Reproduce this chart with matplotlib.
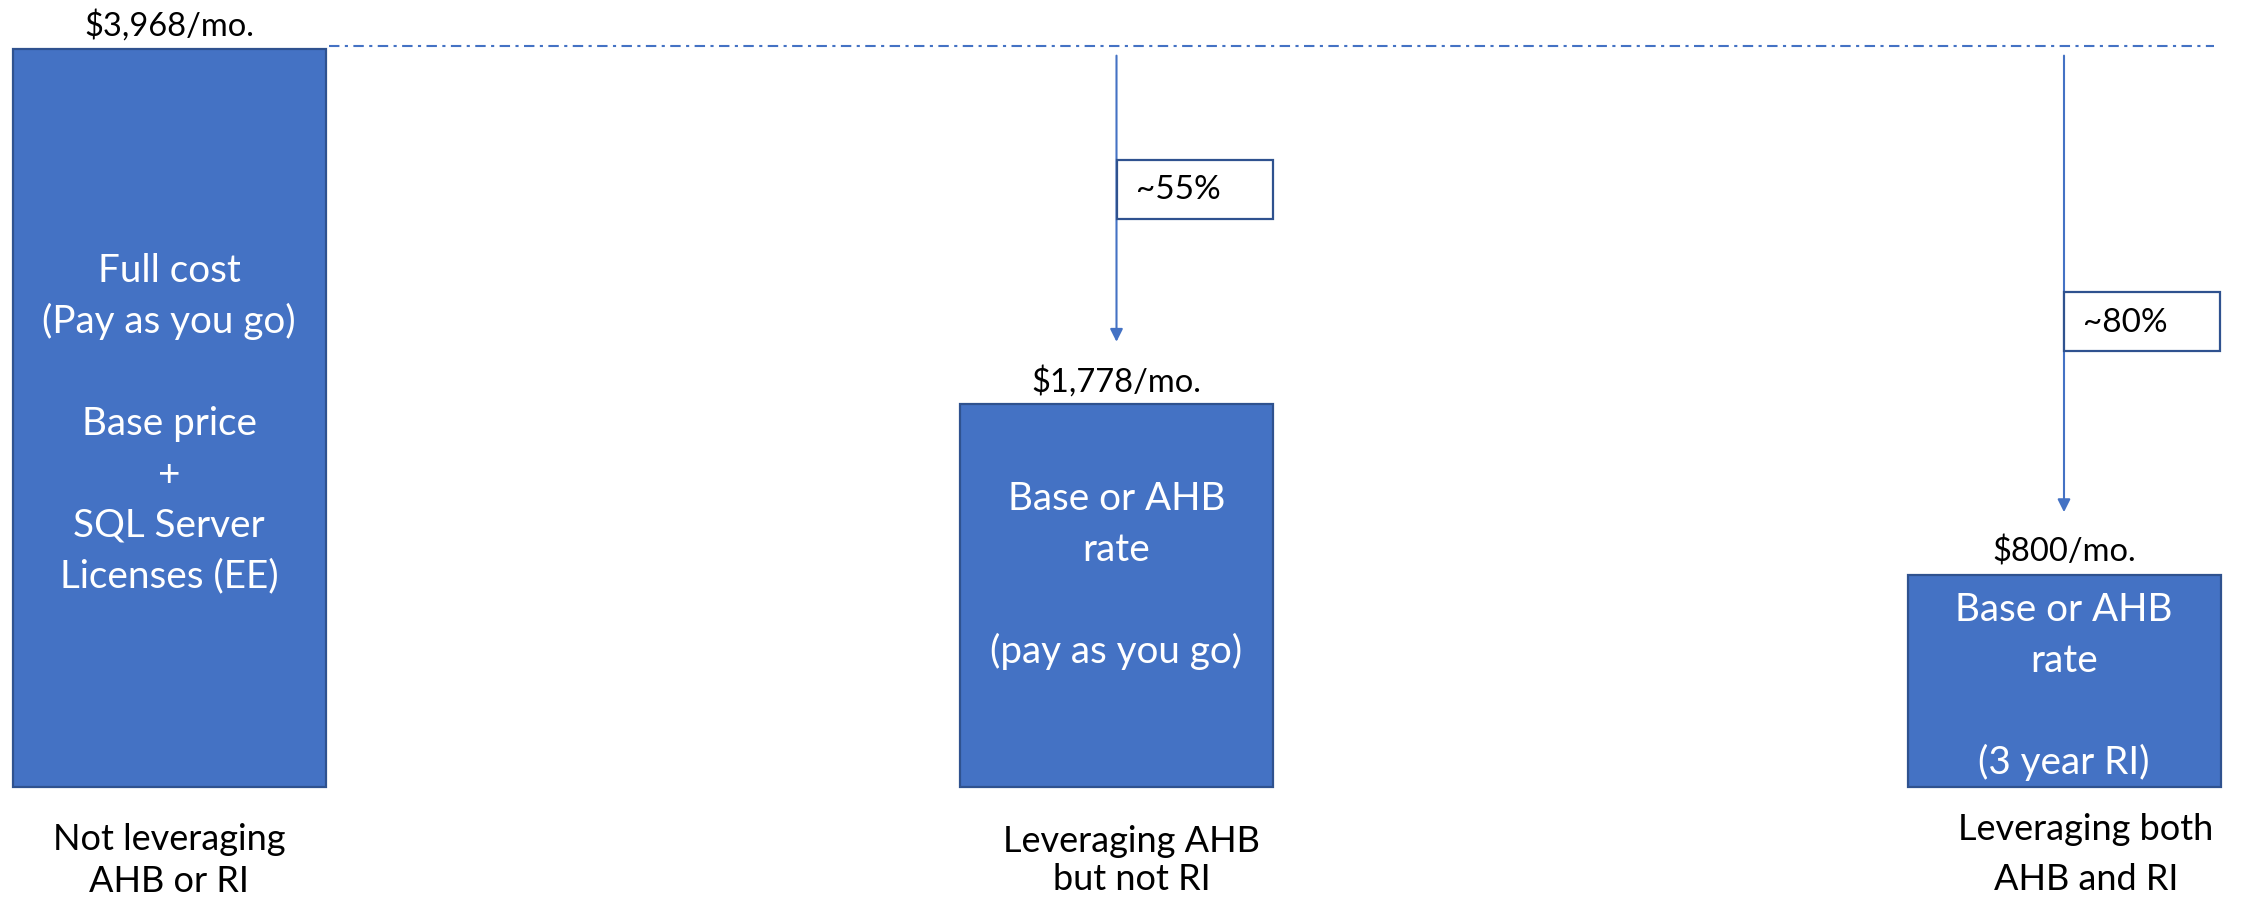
import matplotlib
matplotlib.use("Agg")
import matplotlib.pyplot as plt
from matplotlib.patches import Rectangle

# ---------------- data ----------------
categories = ["Not leveraging\nAHB or RI",
              "Leveraging AHB\nbut not RI",
              "Leveraging both\nAHB and RI"]
monthly_cost = [3968, 1778, 800]                       # $/month
cost_labels = ["$3,968/mo.", "$1,778/mo.", "$800/mo."]
bar_heights = [100.0, 51.8, 28.7]                      # drawn heights (relative)
bar_texts = ["Full cost\n(Pay as you go)\n\nBase price\n+\nSQL Server\nLicenses (EE)",
             "Base or AHB\nrate\n\n(pay as you go)",
             "Base or AHB\nrate\n\n(3 year RI)"]
savings_labels = ["~55%", "~80%"]

# ---------------- style / layout ----------------
plt.rcParams['font.family'] = ['Lato', 'DejaVu Sans']
FILL = '#4472C4'
EDGE = '#2F528F'
W_PX, H_PX = 2246, 903
DPI = 100

fig = plt.figure(figsize=(W_PX / DPI, H_PX / DPI), dpi=DPI)
ax = fig.add_axes([0, 0, 1, 1])
ax.axis('off')

px_per_x = 947.5
px_per_y = 7.375
x0_px = 169.0           # pixel column of first category
base_px = 787.5         # pixel row (from top) of bar bottoms
ax.set_xlim(-x0_px / px_per_x, (W_PX - x0_px) / px_per_x)
ax.set_ylim(-(H_PX - base_px) / px_per_y, base_px / px_per_y)

PT = 72.0 / DPI         # points per pixel
xs = list(range(len(categories)))
bw = 313 / px_per_x

ax.bar(xs, bar_heights, width=bw, color=FILL, edgecolor=EDGE, linewidth=1.6, zorder=2)

# value labels above bars
for x, h, lab in zip(xs, bar_heights, cost_labels):
    ax.annotate(lab, xy=(x, h), xytext=(0, 14 * PT), textcoords='offset points',
                ha='center', va='baseline', fontsize=23.5, color='black')

# text inside bars (one line at a time, 51 px line pitch)
inner_shift_px = [16, -10, 16]
line_px = 51
for x, h, txt, sh in zip(xs, bar_heights, bar_texts, inner_shift_px):
    lines = txt.split('\n')
    n = len(lines)
    for i, ln in enumerate(lines):
        if not ln:
            continue
        off = -(i - (n - 1) / 2) * line_px - sh
        ax.annotate(ln, xy=(x, h / 2), xytext=(0, off * PT), textcoords='offset points',
                    ha='center', va='baseline', fontsize=27.8, color='white', zorder=3)

# category labels under bars (baselines below bar bottom, px)
cat_dx_px = [0, 15, 22]
cat_base_px = [(63, 105), (65, 103), (53, 103)]
for x, cat, dx, bases in zip(xs, categories, cat_dx_px, cat_base_px):
    for ln, b in zip(cat.split('\n'), bases):
        ax.annotate(ln, xy=(x, 0), xytext=(dx * PT, -b * PT), textcoords='offset points',
                    ha='center', va='baseline', fontsize=26, color='black')

# dash-dot reference line at full-cost level
ax.plot([xs[0] + bw / 2 + 3 / px_per_x, xs[-1] + bw / 2 - 7 / px_per_x],
        [bar_heights[0] + 0.4, bar_heights[0] + 0.4],
        color=FILL, lw=1.5, linestyle=(0, (5, 2.6, 1.5, 2.6)), zorder=1)

# arrows and savings boxes
arrow_top = bar_heights[0] - 0.9
box_center_y = [81.0, 63.0]
box_w, box_h = 156 / px_per_x, 59 / px_per_y
for i, (lab, yc) in enumerate(zip(savings_labels, box_center_y)):
    x = xs[i + 1]
    tip = bar_heights[i + 1] + 8.5
    ax.annotate('', xy=(x, tip), xytext=(x, arrow_top),
                arrowprops=dict(arrowstyle='-|>', color=FILL, lw=1.5,
                                mutation_scale=19, shrinkA=0, shrinkB=0), zorder=1)
    ax.add_patch(Rectangle((x, yc - box_h / 2), box_w, box_h, facecolor='white',
                           edgecolor=EDGE, linewidth=1.6, zorder=3))
    ax.annotate(lab, xy=(x, yc), xytext=(19 * PT, 0), textcoords='offset points',
                ha='left', va='center', fontsize=24, color='black', zorder=4)

fig.savefig('out.png', dpi=DPI, facecolor='white')
